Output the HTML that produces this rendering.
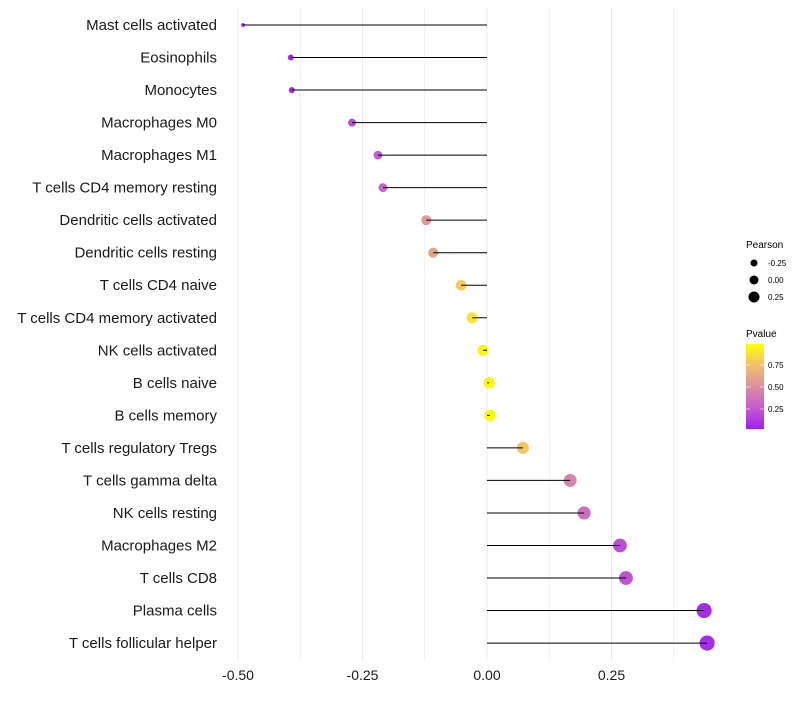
<!DOCTYPE html>
<html><head><meta charset="utf-8"><style>
body{margin:0;background:#fff;font-family:"Liberation Sans",sans-serif}
</style></head><body>
<svg id="chart" width="800" height="700" xmlns="http://www.w3.org/2000/svg" font-family="Liberation Sans, sans-serif">
<defs><linearGradient id="pg" x1="0" y1="1" x2="0" y2="0">
<stop offset="0" stop-color="#a020f0"/><stop offset="0.25" stop-color="#c45ad0"/><stop offset="0.5" stop-color="#dc8fa0"/><stop offset="0.75" stop-color="#f0c070"/><stop offset="1" stop-color="#ffff00"/></linearGradient></defs>
<g id="grid"></g><g id="marks"></g><g id="axes"></g>
<g>
<text x="746" y="248" font-size="10">Pearson</text>
<circle cx="754" cy="263" r="3.5"/><text x="768" y="266" font-size="8">-0.25</text>
<circle cx="754" cy="280" r="4.5"/><text x="768" y="283" font-size="8">0.00</text>
<circle cx="754" cy="297" r="5.5"/><text x="768" y="300" font-size="8">0.25</text>
<text x="746" y="337" font-size="10">Pvalue</text>
<rect x="746" y="344" width="18" height="85" fill="url(#pg)"/>
<line x1="746" x2="750" y1="365" y2="365" stroke="#fff" opacity=".6"/><line x1="760" x2="764" y1="365" y2="365" stroke="#fff" opacity=".6"/>
<line x1="746" x2="750" y1="387" y2="387" stroke="#fff" opacity=".6"/><line x1="760" x2="764" y1="387" y2="387" stroke="#fff" opacity=".6"/>
<line x1="746" x2="750" y1="409" y2="409" stroke="#fff" opacity=".6"/><line x1="760" x2="764" y1="409" y2="409" stroke="#fff" opacity=".6"/>
<text x="768" y="368" font-size="8">0.75</text><text x="768" y="390" font-size="8">0.50</text><text x="768" y="412" font-size="8">0.25</text>
</g>
</svg>
<script>
const categories=["Mast cells activated","Eosinophils","Monocytes","Macrophages M0","Macrophages M1","T cells CD4 memory resting","Dendritic cells activated","Dendritic cells resting","T cells CD4 naive","T cells CD4 memory activated","NK cells activated","B cells naive","B cells memory","T cells regulatory  Tregs","T cells gamma delta","NK cells resting","Macrophages M2","T cells CD8","Plasma cells","T cells follicular helper"];
const pearson=[-0.49,-0.394,-0.392,-0.271,-0.219,-0.209,-0.122,-0.108,-0.052,-0.030,-0.008,0.004,0.006,0.072,0.167,0.195,0.267,0.279,0.436,0.442];
const pvalue=[0.02,0.03,0.04,0.2,0.25,0.3,0.55,0.6,0.8,0.9,0.97,0.99,0.98,0.78,0.45,0.35,0.2,0.22,0.05,0.05];
const xTicks=[-0.5,-0.25,0,0.25];
const xTickLabels=["-0.50","-0.25","0.00","0.25"];
const NS="http://www.w3.org/2000/svg";
const X=v=>487+v*498;
const Y=i=>25+i*32.53;
const R=v=>Math.sqrt(3.5+58*(v+0.49));
const stops=[[0,[160,32,240]],[0.25,[196,90,208]],[0.5,[220,143,160]],[0.75,[240,192,112]],[1,[255,255,0]]];
function col(p){for(let k=1;k<stops.length;k++){if(p<=stops[k][0]){const a=stops[k-1],b=stops[k],t=(p-a[0])/(b[0]-a[0]);return "rgb("+a[1].map((c,j)=>Math.round(c+(b[1][j]-c)*t)).join(",")+")";}}return "rgb(255,255,0)";}
function mk(tag,attrs,parent){const e=document.createElementNS(NS,tag);for(const k in attrs)e.setAttribute(k,attrs[k]);document.getElementById(parent).appendChild(e);return e;}
const grid=[-0.5,-0.375,-0.25,-0.125,0,0.125,0.25,0.375];
grid.forEach(g=>{const l=mk("line",{x1:X(g),x2:X(g),y1:8,y2:660,stroke:"#ebebeb","stroke-width":xTicks.includes(g)?1:0.6},"grid");

});
categories.forEach((c,i)=>{
const pt=mk("circle",{cx:X(pearson[i]),cy:Y(i),r:R(pearson[i]),fill:col(pvalue[i])},"marks");


const sg=mk("line",{x1:X(0),x2:X(pearson[i]),y1:Y(i),y2:Y(i),stroke:"#000","stroke-width":1},"marks");


const t=mk("text",{x:217,y:Y(i)+5,"text-anchor":"end","font-size":15,fill:"#1a1a1a"},"axes");
t.textContent=c;

});
xTicks.forEach((v,i)=>{const t=mk("text",{x:X(v),y:680,"text-anchor":"middle","font-size":14,fill:"#1a1a1a"},"axes");
t.textContent=xTickLabels[i];

});
</script>
</body></html>
